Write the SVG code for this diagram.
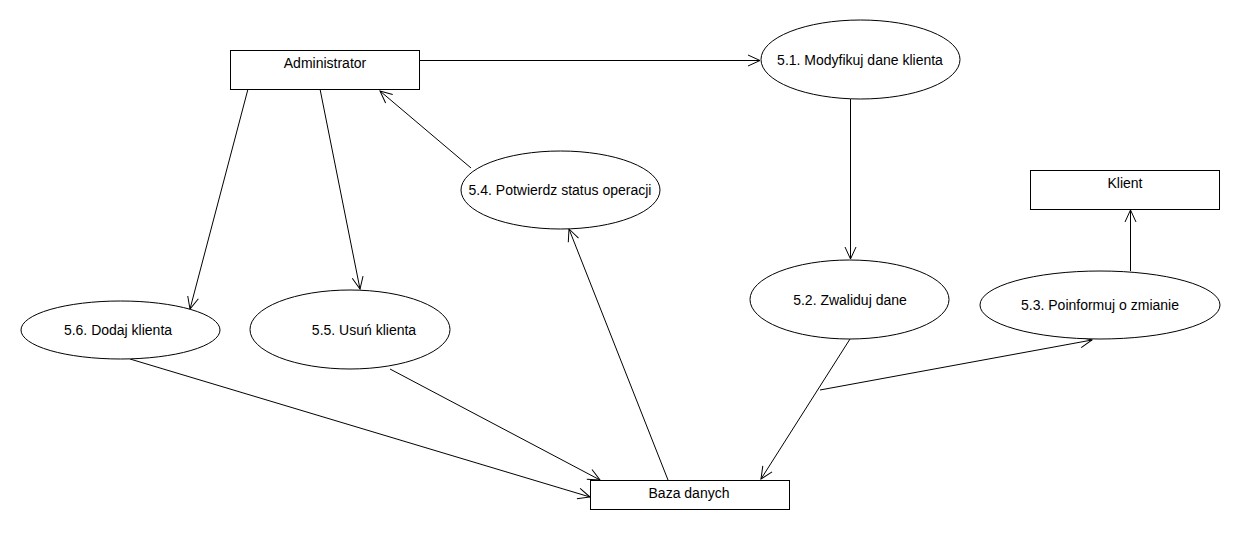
<svg xmlns="http://www.w3.org/2000/svg" width="1240" height="540" viewBox="0 0 1240 540">
  <style>
    .box { fill: #ffffff; stroke: #000000; stroke-width: 1; }
    .oval { fill: #ffffff; stroke: #000000; stroke-width: 1; }
    .lbl { font-family: "Liberation Sans", Arial, sans-serif; font-size: 14px; fill: #000000; text-anchor: middle; }
    .edge { fill: none; stroke: #000000; stroke-width: 1; }
  </style>
  <defs>
    <marker id="open" markerUnits="userSpaceOnUse" markerWidth="16" markerHeight="16" viewBox="-14 -8 16 16" refX="0" refY="0" orient="auto">
      <path d="M -12 -5.5 L 0 0 L -12 5.5" fill="none" stroke="#000000" stroke-width="1"/>
    </marker>
  </defs>
  <rect width="1240" height="540" fill="#ffffff"/>

  <g id="connectors">
    <line class="edge" x1="419.5" y1="60.5" x2="760" y2="60.5" marker-end="url(#open)"/>
    <line class="edge" x1="850.5" y1="99" x2="850.5" y2="259" marker-end="url(#open)"/>
    <line class="edge" x1="850" y1="339" x2="761" y2="479" marker-end="url(#open)"/>
    <polyline class="edge" points="820,390 1092,340" marker-end="url(#open)"/>
    <line class="edge" x1="1130.5" y1="271" x2="1130.5" y2="210" marker-end="url(#open)"/>
    <line class="edge" x1="668" y1="480" x2="569" y2="229" marker-end="url(#open)"/>
    <line class="edge" x1="471" y1="168" x2="380" y2="91" marker-end="url(#open)"/>
    <line class="edge" x1="248" y1="89" x2="190" y2="309" marker-end="url(#open)"/>
    <line class="edge" x1="320" y1="89" x2="360" y2="289" marker-end="url(#open)"/>
    <line class="edge" x1="130" y1="359" x2="590" y2="497" marker-end="url(#open)"/>
    <line class="edge" x1="390" y1="369" x2="600" y2="480" marker-end="url(#open)"/>
  </g>

  <g id="administrator">
    <rect class="box" x="230.5" y="50.5" width="189" height="39"/>
    <text class="lbl" x="325" y="68">Administrator</text>
  </g>
  <g id="modyfikuj">
    <ellipse class="oval" cx="860.5" cy="59.5" rx="99.5" ry="39.5"/>
    <text class="lbl" x="860" y="65">5.1. Modyfikuj dane klienta</text>
  </g>
  <g id="zwaliduj">
    <ellipse class="oval" cx="849.5" cy="299.5" rx="99.5" ry="39.5"/>
    <text class="lbl" x="850" y="305">5.2. Zwaliduj dane</text>
  </g>
  <g id="poinformuj">
    <ellipse class="oval" cx="1100" cy="305" rx="120" ry="34"/>
    <text class="lbl" x="1100" y="310">5.3. Poinformuj o zmianie</text>
  </g>
  <g id="klient">
    <rect class="box" x="1030.5" y="170.5" width="189" height="39"/>
    <text class="lbl" x="1125" y="188">Klient</text>
  </g>
  <g id="potwierdz">
    <ellipse class="oval" cx="560.5" cy="190" rx="99.5" ry="39"/>
    <text class="lbl" x="560" y="195">5.4. Potwierdz status operacji</text>
  </g>
  <g id="usun">
    <ellipse class="oval" cx="350" cy="329.5" rx="100" ry="39.5"/>
    <text class="lbl" x="364" y="335">5.5. Usuń klienta</text>
  </g>
  <g id="dodaj">
    <ellipse class="oval" cx="120.5" cy="330" rx="99.5" ry="29"/>
    <text class="lbl" x="118" y="335">5.6. Dodaj klienta</text>
  </g>
  <g id="baza">
    <rect class="box" x="590.5" y="480.5" width="199" height="29"/>
    <text class="lbl" x="689" y="498">Baza danych</text>
  </g>
</svg>
